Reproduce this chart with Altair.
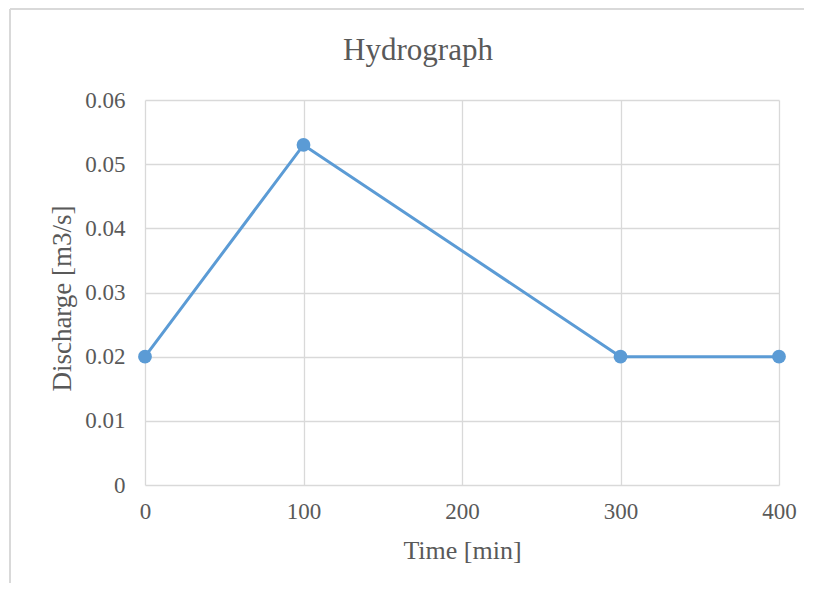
import altair as alt
import pandas as pd

time_min = [0, 100, 300, 400]
discharge = [0.02, 0.053, 0.02, 0.02]

df = pd.DataFrame({"Time": time_min, "Discharge": discharge})

FONT = "Liberation Serif"
TXT = "#595959"
GRID = "#D9D9D9"
BLUE = "#5B9BD5"

x_enc = alt.X("Time:Q", scale=alt.Scale(domain=[0, 400], nice=False),
              axis=alt.Axis(title="Time [min]", values=[0, 100, 200, 300, 400],
                            grid=True, gridColor=GRID, gridWidth=1.3, domain=False, ticks=False,
                            labelFlush=False,
                            labelFont=FONT, labelFontSize=23, labelColor=TXT, labelPadding=15,
                            titleFont=FONT, titleFontSize=26, titleColor=TXT, titleFontWeight="normal",
                            titleY=65, titleBaseline="middle"))
y_enc = alt.Y("Discharge:Q", scale=alt.Scale(domain=[0, 0.06], nice=False),
              axis=alt.Axis(title="Discharge [m3/s]", values=[0, 0.01, 0.02, 0.03, 0.04, 0.05, 0.06],
                            labelExpr="datum.value == 0 ? '0' : format(datum.value, '.2f')",
                            grid=True, gridColor=GRID, gridWidth=1.3, domain=False, ticks=False,
                            labelFlush=False,
                            labelFont=FONT, labelFontSize=23, labelColor=TXT, labelPadding=20,
                            titleFont=FONT, titleFontSize=27, titleColor=TXT, titleFontWeight="normal",
                            titleX=-83, titleY=198, titleAngle=-90, titleAlign="center",
                            titleBaseline="middle"))

line = alt.Chart(df).mark_line(color=BLUE, strokeWidth=3).encode(x=x_enc, y=y_enc)
pts = alt.Chart(df).mark_point(filled=True, color=BLUE, size=190, opacity=1).encode(x="Time:Q", y="Discharge:Q")

border_left = alt.Chart(df).mark_rule(color=GRID, strokeWidth=1.5).encode(
    x=alt.value(-135), y=alt.value(-91), y2=alt.value(495))
border_top = alt.Chart(df).mark_rule(color=GRID, strokeWidth=1.5).encode(
    x=alt.value(-135), x2=alt.value(670), y=alt.value(-91))

chart = alt.layer(border_left, border_top, line, pts).properties(
    width=634, height=385,
    padding={"left": 137, "top": 92, "right": 25, "bottom": 98},
    autosize=alt.AutoSizeParams(type="none"),
    title=alt.TitleParams("Hydrograph", font=FONT, fontSize=31, color=TXT, fontWeight="normal",
                          anchor="middle", offset=-59, dx=-44),
).configure_view(stroke=None)

chart.save("out.html", embed_options={"renderer": "svg", "actions": False})
